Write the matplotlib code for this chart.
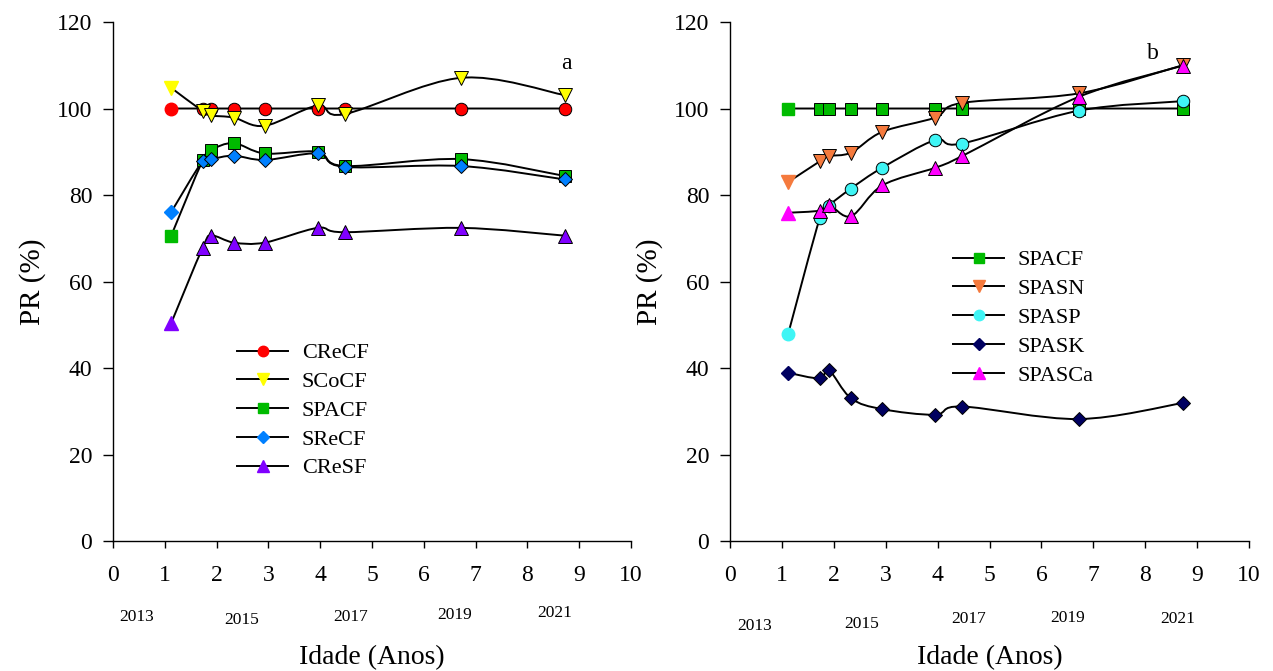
import numpy as np
import matplotlib
matplotlib.use("Agg")
from matplotlib import pyplot as plt
from matplotlib.path import Path
from matplotlib.patches import PathPatch
from matplotlib.lines import Line2D
import matplotlib.transforms as mtrans

plt.rcParams['font.family'] = ['Liberation Serif', 'DejaVu Serif']

# age (years) of each sampling
idade = [1.12, 1.73, 1.9, 2.33, 2.93, 3.95, 4.47, 6.72, 8.72]

# panel a
creCF = [100, 100, 100, 100, 100, 100, 100, 100, 100]
scoCF = [104.8, 99.4, 98.4, 97.9, 96.0, 100.7, 98.7, 107.1, 103.1]
spaCF_a = [70.5, 88.0, 90.4, 92.0, 89.6, 90.0, 86.7, 88.3, 84.4]
sreCF = [76.0, 87.9, 88.3, 89.1, 88.1, 89.6, 86.5, 86.7, 83.6]
creSF = [50.3, 67.8, 70.6, 69.0, 69.0, 72.4, 71.4, 72.4, 70.6]

# panel b
spaCF_b = [100, 100, 100, 100, 100, 100, 100, 100, 100]
spaSN = [83.0, 87.8, 89.0, 89.8, 94.6, 97.9, 101.3, 103.5, 110.0]
spaSP = [47.9, 74.7, 77.5, 81.5, 86.3, 92.7, 91.9, 99.5, 101.7]
spaSK = [38.9, 37.6, 39.6, 33.0, 30.5, 29.2, 31.1, 28.2, 31.9]
spaSCa = [75.9, 76.4, 77.8, 75.1, 82.2, 86.3, 89.0, 102.7, 109.9]

anos = ['2013', '2015', '2017', '2019', '2021']
anos_x_a = [0.46, 2.49, 4.58, 6.6, 8.53]
anos_y_a = [-0.146, -0.152, -0.146, -0.143, -0.139]
anos_x_b = [0.48, 2.54, 4.59, 6.51, 8.63]
anos_y_b = [-0.164, -0.160, -0.150, -0.148, -0.150]

series_a = [('CReCF', creCF, 'o', '#FF0000', 9),
            ('SCoCF', scoCF, 'v', '#FFFF00', 10),
            ('SPACF', spaCF_a, 's', '#00BB00', 8.5),
            ('SReCF', sreCF, 'D', '#0080FF', 7.5),
            ('CReSF', creSF, '^', '#8000FF', 10)]
series_b = [('SPACF', spaCF_b, 's', '#00BB00', 8.5),
            ('SPASN', spaSN, 'v', '#F57A3D', 10),
            ('SPASP', spaSP, 'o', '#3FF5F5', 9),
            ('SPASK', spaSK, 'D', '#000060', 7.5),
            ('SPASCa', spaSCa, '^', '#FF00FF', 10)]


def smooth_path(x, y):
    # excel-like smoothed line (cubic bezier through the points)
    p = np.column_stack([x, y]).astype(float)
    n = len(p)
    verts = [p[0]]
    codes = [Path.MOVETO]
    for i in range(n - 1):
        p0 = p[i - 1] if i > 0 else p[i]
        p3 = p[i + 2] if i + 2 < n else p[i + 1]
        c1 = p[i] + (p[i + 1] - p0) / 6
        c2 = p[i + 1] - (p3 - p[i]) / 6
        verts += [c1, c2, p[i + 1]]
        codes += [Path.CURVE4] * 3
    return Path(verts, codes)


def draw_panel(ax, series, letter, letter_xy, anos_x, anos_y, leg_anchor):
    handles = []
    for name, vals, mk, col, ms in series:
        ax.add_patch(PathPatch(smooth_path(idade, vals), fill=False,
                               edgecolor='black', lw=1.4, zorder=2))
        ax.plot(idade[:1], vals[:1], ls='none', marker=mk, ms=ms,
                mfc=col, mec=col, zorder=3)
        ax.plot(idade[1:], vals[1:], ls='none', marker=mk, ms=ms,
                mfc=col, mec='black', mew=0.7, zorder=3)
        handles.append(Line2D([], [], color='black', lw=1.4, marker=mk,
                              ms=ms - 1.5, mfc=col, mec=col, label=name))

    ax.set_xlim(0, 10)
    ax.set_ylim(0, 120)
    ax.set_xticks(range(0, 11))
    ax.set_yticks(range(0, 121, 20))
    ax.spines['top'].set_visible(False)
    ax.spines['right'].set_visible(False)
    for s in ['left', 'bottom']:
        ax.spines[s].set_linewidth(1.0)
    ax.tick_params(axis='y', direction='out', length=7, width=1.0,
                   labelsize=17, pad=8)
    ax.tick_params(axis='x', direction='out', length=5, width=1.0,
                   labelsize=17, pad=12)

    ax.set_ylabel('PR (%)', fontsize=21)
    ax.yaxis.set_label_coords(-0.13, 0.5)
    ax.set_xlabel('Idade (Anos)', fontsize=20)
    ax.xaxis.set_label_coords(0.5, -0.2)

    trans = mtrans.blended_transform_factory(ax.transData, ax.transAxes)
    for lab, xx, yy in zip(anos, anos_x, anos_y):
        ax.text(xx, yy, lab, transform=trans, ha='center', va='center',
                fontsize=12.5)

    ax.text(letter_xy[0], letter_xy[1], letter, fontsize=17,
            ha='center', va='center')

    ax.legend(handles=handles, loc='upper left', bbox_to_anchor=leg_anchor,
              frameon=False, fontsize=16, handlelength=2.3,
              handletextpad=0.6, labelspacing=0.37, borderpad=0,
              borderaxespad=0)


fig = plt.figure(figsize=(12.73, 6.71), dpi=100)
ax1 = fig.add_axes([0.0888, 0.1937, 0.4069, 0.7735])
ax2 = fig.add_axes([0.5735, 0.1937, 0.4077, 0.7735])

draw_panel(ax1, series_a, 'a', (8.76, 110.5), anos_x_a, anos_y_a, (0.24, 0.382))
draw_panel(ax2, series_b, 'b', (8.15, 112.8), anos_x_b, anos_y_b, (0.43, 0.561))

fig.savefig('out.png', dpi=100)
